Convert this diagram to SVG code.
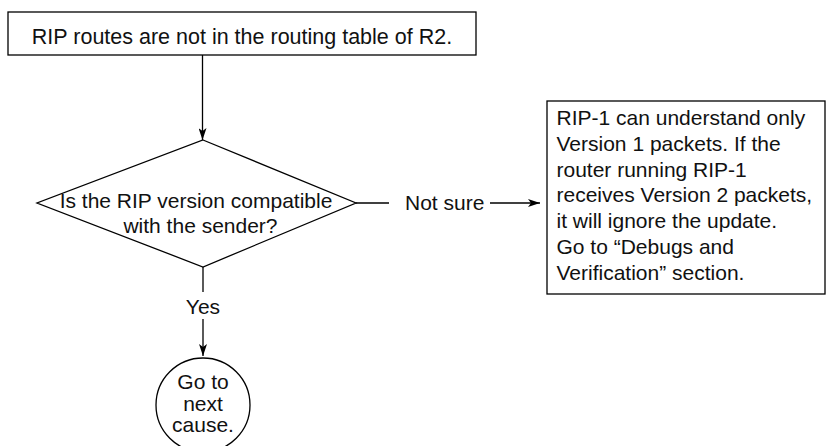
<svg xmlns="http://www.w3.org/2000/svg" width="827" height="446" viewBox="0 0 827 446">
  <style>
    .shape { fill: #ffffff; stroke: #000000; stroke-width: 1.3; }
    .line { fill: none; stroke: #000000; stroke-width: 1.3; }
    .txt { font-family: "Liberation Sans", Arial, Helvetica, sans-serif; font-size: 21px; fill: #111111; }
    .mid { text-anchor: middle; }
  </style>
  <defs>
    <marker id="arrow" viewBox="0 0 12 8" refX="12" refY="4" markerWidth="12" markerHeight="8" markerUnits="userSpaceOnUse" orient="auto">
      <path d="M0,0 L12,4 L0,8 L3,4 z" fill="#000000"/>
    </marker>
  </defs>

  <rect width="827" height="446" fill="#ffffff"/>

  <g id="connectors">
    <line class="line" x1="202.5" y1="55" x2="202.5" y2="140" marker-end="url(#arrow)"/>
    <line class="line" x1="356" y1="203" x2="389" y2="203"/>
    <line class="line" x1="490" y1="203" x2="540" y2="203" marker-end="url(#arrow)"/>
    <line class="line" x1="203" y1="267" x2="203" y2="292"/>
    <line class="line" x1="203" y1="319" x2="203" y2="356" marker-end="url(#arrow)"/>
    <text class="txt" x="405" y="210">Not sure</text>
    <text class="txt mid" x="203" y="314">Yes</text>
  </g>

  <g id="start">
    <rect class="shape" x="8" y="12" width="468" height="43"/>
    <text class="txt mid" x="242" y="44" style="font-size:21.5px">RIP routes are not in the routing table of R2.</text>
  </g>

  <g id="decision">
    <polygon class="shape" points="203,140 356,203 203,267 37,203"/>
    <text class="txt mid" x="196" y="208">Is the RIP version compatible</text>
    <text class="txt mid" x="200.5" y="233">with the sender?</text>
  </g>

  <g id="note">
    <rect class="shape" x="547" y="101" width="278" height="193"/>
    <text class="txt" x="556.5" y="125">RIP-1 can understand only</text>
    <text class="txt" x="556.5" y="150.8">Version 1 packets. If the</text>
    <text class="txt" x="556.5" y="176.6">router running RIP-1</text>
    <text class="txt" x="556.5" y="202.4">receives Version 2 packets,</text>
    <text class="txt" x="556.5" y="228.2">it will ignore the update.</text>
    <text class="txt" x="556.5" y="254">Go to “Debugs and</text>
    <text class="txt" x="556.5" y="279.8">Verification” section.</text>
  </g>

  <g id="next-cause">
    <circle class="shape" cx="203" cy="405" r="47"/>
    <text class="txt mid" x="203" y="389">Go to</text>
    <text class="txt mid" x="203" y="410.5">next</text>
    <text class="txt mid" x="203" y="432">cause.</text>
  </g>
</svg>
